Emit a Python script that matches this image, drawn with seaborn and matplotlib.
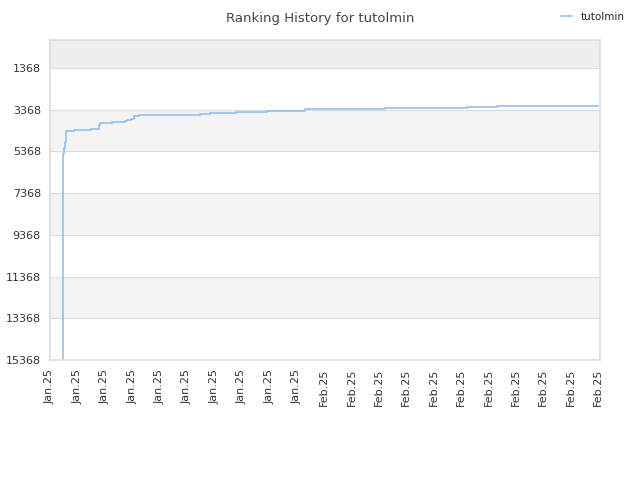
import matplotlib
matplotlib.use('Agg')
import matplotlib.pyplot as plt
import seaborn as sns
import pandas as pd

sns.set_theme(style='white')
plt.rcParams['font.family'] = ['DejaVu Sans']

# x positions in tick units (0 = first tick, 20 = last tick)
steps_x = [0.42, 0.46, 0.50, 0.55, 0.60, 0.89, 1.48, 1.79, 1.81, 2.28, 2.72, 2.81, 2.94, 3.05, 3.24,
           5.46, 5.85, 6.78, 7.91, 9.30, 12.21, 15.23, 16.32, 20.0]
steps_rank = [15368, 5480, 5200, 4900, 4415, 4350, 4296, 4125, 4020, 3970, 3915, 3863, 3797, 3673, 3607,
              3570, 3515, 3468, 3416, 3363, 3311, 3259, 3207, 3207]
tick_labels = ['Jan.25'] * 10 + ['Feb.25'] * 11
y_ticks = [1368, 3368, 5368, 7368, 9368, 11368, 13368, 15368]

df = pd.DataFrame({'x': steps_x, 'rank': steps_rank})

fig = plt.figure(figsize=(6.4, 4.8), dpi=100)
ax = fig.add_axes([50/640, 120/480, 550/640, 320/480])

# alternating bands
top = 35
bands = [top] + y_ticks
for i in range(len(bands) - 1):
    if i % 2 == 0:
        col = '#eeeeee' if i == 0 else '#f3f3f3'
        ax.axhspan(bands[i], bands[i + 1], color=col, zorder=0, lw=0)
for yv in y_ticks:
    ax.axhline(yv, color='#dddddd', lw=0.8, zorder=1)

sns.lineplot(data=df, x='x', y='rank', drawstyle='steps-post', color='#90c0f0', lw=1.2,
             ax=ax, label='tutolmin', legend=False)

ax.set_xlim(0, 20.07)
ax.set_ylim(15368, top)
ax.set_yticks(y_ticks)
ax.set_yticklabels([str(v) for v in y_ticks], fontsize=8, color='#333333')
ax.set_xticks(range(21))
ax.set_xticklabels(tick_labels, rotation=90, fontsize=8, color='#333333')
ax.tick_params(axis='both', length=3, color='#999999')
ax.set_xlabel('')
ax.set_ylabel('')
for s in ax.spines.values():
    s.set_color('#dddddd')

fig.text(0.5, 0.975, 'Ranking History for tutolmin', ha='center', va='top', fontsize=9.5, color='#444444')
fig.legend(*ax.get_legend_handles_labels(), loc='upper right', bbox_to_anchor=(0.99, 0.995),
           frameon=False, fontsize=7.5, handlelength=1.0)

fig.savefig('out.png', dpi=100)
